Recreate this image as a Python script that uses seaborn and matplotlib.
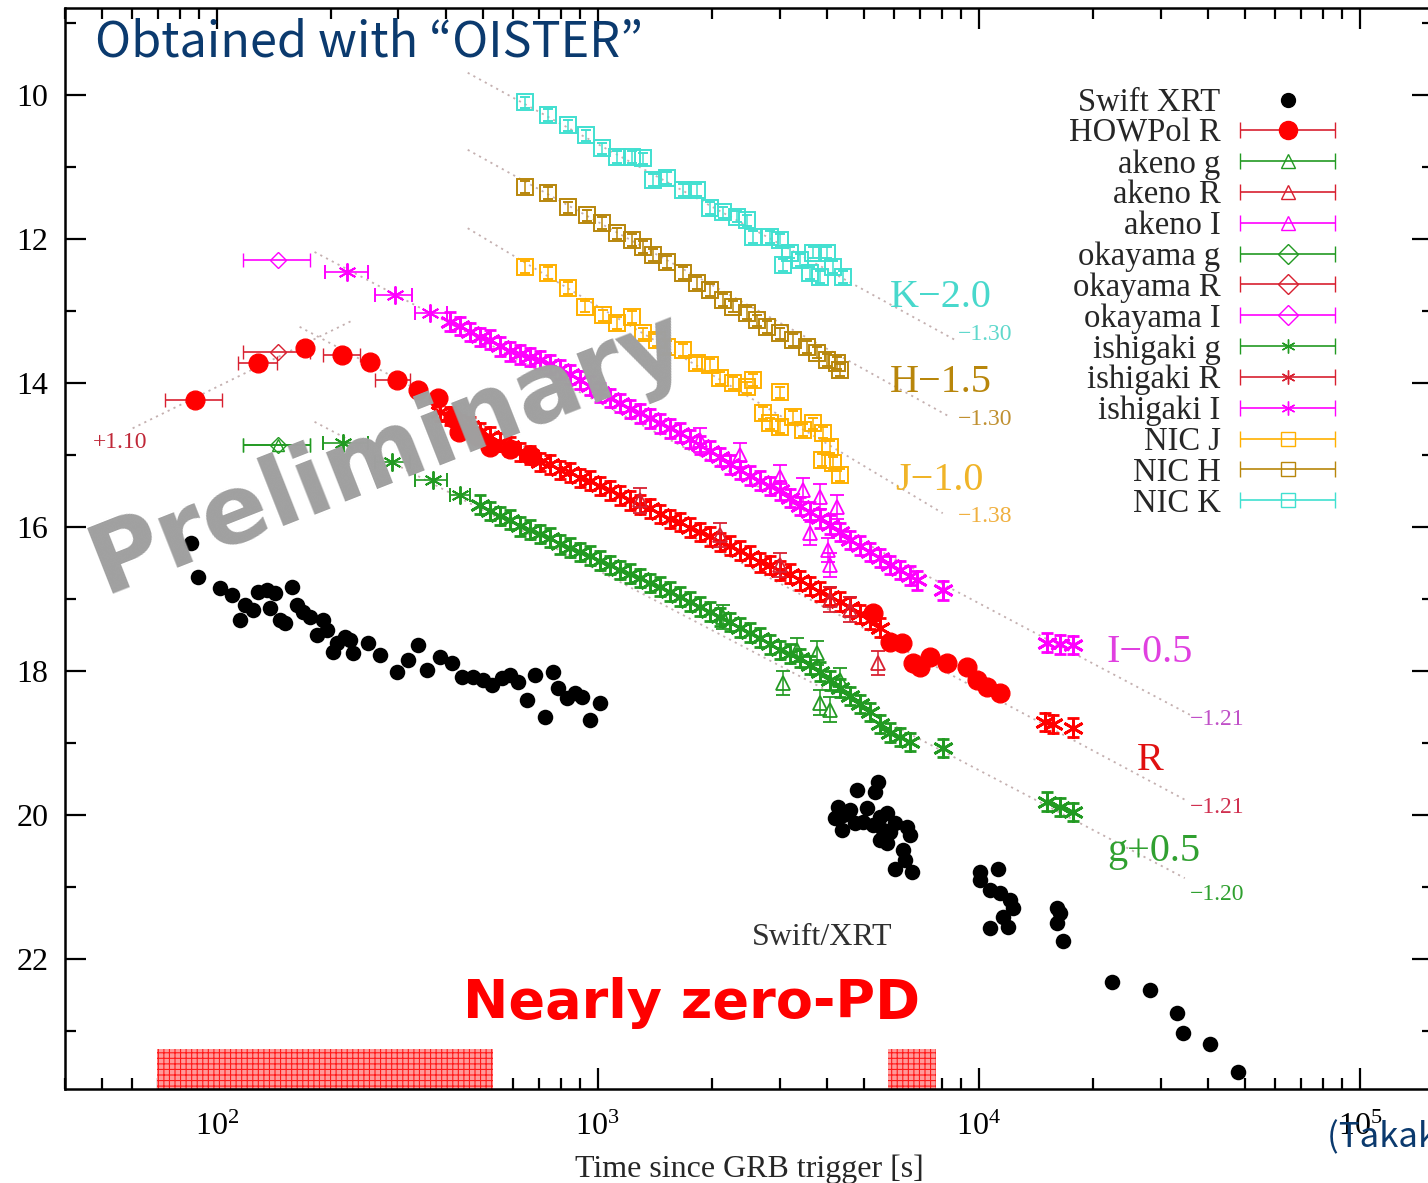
import numpy as np
import matplotlib
matplotlib.use("Agg")
import matplotlib.pyplot as plt
import seaborn as sns
from matplotlib.ticker import LogLocator, MultipleLocator, NullFormatter
from matplotlib.container import ErrorbarContainer
from matplotlib.legend_handler import HandlerErrorbar

# ---------------- data (time [s], magnitude) ----------------
xrt_t = [85.5, 89.2, 101.8, 109.5, 114.9, 118.4, 124.3, 128.2, 135.3, 142,
         137.8, 146.4, 150.7, 157.3, 162.2, 168.2, 175.4, 182.9, 189.7, 194.4,
         201.5, 206.5, 216.8, 223.4, 227.5, 249, 268, 296.7, 317, 337,
         356, 385, 414, 440, 470, 499, 527, 560, 587, 617,
         651, 684, 726, 762, 785, 829, 871, 908, 953, 1012,
         4786, 5433, 5333, 4266, 4188, 4395, 4585, 4365, 4730, 5082, 4962, 5270, 5500,
         5740, 5600, 5500, 5840, 6020, 6470, 6590, 5740, 6320, 6400, 6020, 6670,
         10070, 11230, 10070, 10690, 11350, 12060, 12280, 11560, 10690, 11910,
         16030, 16330, 16030, 16600,
         22320, 28100, 33100, 34300, 40360, 47860]
xrt_mag = [16.22, 16.69, 16.85, 16.94, 17.29, 17.08, 17.15, 16.90, 16.88, 16.92,
           17.13, 17.29, 17.33, 16.83, 17.08, 17.18, 17.25, 17.50, 17.29, 17.43,
           17.74, 17.61, 17.53, 17.57, 17.75, 17.61, 17.78, 18.01, 17.85, 17.64,
           17.99, 17.81, 17.89, 18.08, 18.08, 18.13, 18.19, 18.10, 18.06, 18.15,
           18.40, 18.06, 18.64, 18.01, 18.24, 18.38, 18.31, 18.36, 18.68, 18.44,
           19.65, 19.54, 19.69, 19.89, 20.04, 20.00, 19.93, 20.21, 20.11, 19.90, 20.10, 20.14, 20.03,
           19.97, 20.21, 20.35, 20.24, 20.11, 20.17, 20.28, 20.39, 20.49, 20.63, 20.76, 20.79,
           20.79, 20.76, 20.90, 21.04, 21.08, 21.18, 21.29, 21.42, 21.57, 21.56,
           21.29, 21.36, 21.50, 21.76,
           22.32, 22.43, 22.75, 23.03, 23.19, 23.57]

howpol_t = [87.6, 128.1, 170.2, 212.8, 252.1, 296.8, 337.1, 380.2, 416.4, 431.8,
            481.4, 520.7, 587.5, 663.1,
            5271, 5839, 6279, 6713, 6999, 7436, 8241, 9300, 9880, 10500, 11350]
howpol_mag = [14.24, 13.72, 13.51, 13.61, 13.71, 13.96, 14.10, 14.21, 14.49, 14.68,
              14.74, 14.89, 14.92, 15.00,
              17.19, 17.60, 17.61, 17.89, 17.94, 17.81, 17.89, 17.94, 18.13, 18.22, 18.31]
howpol_xe_t = [87.6, 128.1, 212.8, 296.8]
howpol_xe_mag = [14.24, 13.72, 13.61, 13.96]
howpol_xe_lo = [73.0, 113.5, 189.8, 259.8]
howpol_xe_hi = [103.1, 143.7, 237.3, 321.1]

ishiI_e_t = [219.4, 293.2, 362.4]
ishiI_e_mag = [12.46, 12.78, 13.03]
ishiI_e_lo = [192.1, 259.8, 331.0]
ishiI_e_hi = [249.1, 325.0, 401.5]
ishiI_t = [409, 434, 461, 490, 521, 553, 588, 624, 663, 704, 748, 795, 844, 897, 953,
           1012, 1075, 1142, 1213, 1289, 1369, 1455, 1545, 1641, 1744, 1853,
           1968, 2091, 2221, 2359, 2506, 2662, 2828, 3004, 3191, 3390,
           3601, 3826, 4064, 4317, 4585, 4871, 5174, 5497, 5839, 6203,
           6589, 6876, 8044, 15085, 16320, 17650]
ishiI_mag = [13.15, 13.21, 13.29, 13.36, 13.40, 13.49, 13.56, 13.60, 13.64, 13.68,
             13.74, 13.81, 13.88, 13.96, 14.04,
             14.13, 14.21, 14.28, 14.36, 14.42, 14.49, 14.56, 14.63, 14.69, 14.78, 14.86,
             14.94, 15.03, 15.13, 15.21, 15.29, 15.36, 15.43, 15.49, 15.60, 15.71,
             15.79, 15.88, 15.97, 16.07, 16.18, 16.26, 16.35, 16.43, 16.53, 16.60,
             16.68, 16.74, 16.88, 17.61, 17.63, 17.64]

ishiR_t = [385, 409, 434, 461, 490, 521, 553, 588, 624, 663, 704, 748, 795, 844, 897, 953,
           1012, 1075, 1142, 1213, 1289, 1369, 1455, 1545, 1641, 1744, 1853,
           1968, 2091, 2221, 2359, 2506, 2662, 2828, 3004, 3191, 3390,
           3601, 3826, 4064, 4317, 4585, 4871, 5174, 5497,
           14900, 15640, 17650]
ishiR_mag = [14.40, 14.46, 14.57, 14.60, 14.68, 14.74, 14.82, 14.88, 14.96, 15.00,
             15.10, 15.13, 15.21, 15.24, 15.32, 15.36, 15.43, 15.49, 15.56, 15.63,
             15.69, 15.74, 15.82, 15.89, 15.93, 16.01, 16.07, 16.13, 16.21, 16.26,
             16.33, 16.40, 16.49, 16.53, 16.61, 16.65, 16.74, 16.82, 16.90, 16.96,
             17.04, 17.11, 17.21, 17.29, 17.40,
             18.71, 18.74, 18.79]

ishig_e_t = [214, 288, 369, 434]
ishig_e_mag = [14.83, 15.10, 15.35, 15.56]
ishig_e_lo = [189.8, 259.8, 331.0, 409.0]
ishig_e_hi = [249.1, 321.0, 401.5, 461.0]
ishig_t = [490, 521, 553, 588, 624, 663, 704, 748, 795, 844, 897, 953,
           1012, 1075, 1142, 1213, 1289, 1369, 1455, 1545, 1641, 1744, 1853,
           1968, 2091, 2221, 2359, 2506, 2662, 2828, 3004, 3191, 3390,
           3601, 3826, 4064, 4317, 4585, 4871, 5174, 5497, 5839, 6203, 6589,
           8044, 15085, 16320, 17650]
ishig_mag = [15.69, 15.78, 15.85, 15.90, 15.99, 16.04, 16.10, 16.15, 16.24, 16.29,
             16.35, 16.40, 16.47, 16.53, 16.60, 16.65, 16.71, 16.78, 16.83, 16.90,
             16.97, 17.04, 17.11, 17.18, 17.25, 17.32, 17.40, 17.47, 17.54, 17.63,
             17.71, 17.76, 17.82, 17.92, 18.01, 18.13, 18.24, 18.35, 18.46, 18.57,
             18.74, 18.86, 18.92, 18.99,
             19.07, 19.82, 19.89, 19.96]

akeno_g_t = [2128, 3329, 3757, 3059, 3826, 4064, 4317]
akeno_g_mag = [17.25, 17.71, 17.75, 18.17, 18.44, 18.54, 18.13]
akeno_R_t = [1289, 2091, 3004, 4064, 4585, 5433]
akeno_R_mag = [15.63, 16.11, 16.53, 17.01, 17.15, 17.89]
akeno_I_t = [1853, 2359, 3004, 3452, 3826, 4238, 3601, 4015, 4064]
akeno_I_mag = [14.79, 15.00, 15.31, 15.49, 15.58, 15.72, 16.08, 16.32, 16.53]

# early points with time bins (akeno g, okayama g/R/I)
early_t = 144.6
early_lo = 117.0
early_hi = 175.4
akeno_g_e_mag = 14.86
okayama_mag = {"g": 14.86, "R": 13.57, "I": 12.29}

nicK_t = [643.5, 739.3, 834.2, 930.0, 1024, 1122, 1228, 1313, 1395, 1518, 1672, 1819, 1968,
          2128, 2317, 2461, 2552, 2828, 3004, 3191, 3059, 3390, 3667, 3990, 3601, 4140, 4395, 3826]
nicK_mag = [10.10, 10.28, 10.42, 10.56, 10.74, 10.86, 10.86, 10.88, 11.18, 11.15, 11.32, 11.32, 11.57,
            11.63, 11.69, 11.74, 11.97, 11.97, 12.01, 12.19, 12.36, 12.29, 12.19, 12.19, 12.47, 12.39, 12.53, 12.53]
nicH_t = [643.5, 739.3, 834.2, 935.7, 1024, 1122, 1228, 1313, 1395, 1518, 1672, 1819, 1968,
          2128, 2262, 2461, 2615, 2777, 3004, 3250, 3537, 3757, 3990, 4240, 4317]
nicH_mag = [11.28, 11.36, 11.56, 11.67, 11.78, 11.92, 12.01, 12.11, 12.22, 12.32, 12.47, 12.61, 12.71,
            12.85, 12.94, 13.03, 13.13, 13.22, 13.31, 13.40, 13.50, 13.58, 13.68, 13.72, 13.82]
nicJ_t = [643.5, 739.3, 834.2, 924.5, 1031, 1122, 1228, 1313, 1429, 1518, 1672, 1819, 1968,
          2091, 2262, 2461, 2552, 3004, 2711, 2828, 3004, 3250, 3452, 3667, 3896, 4064, 3872, 4140, 4317]
nicJ_mag = [12.39, 12.47, 12.68, 12.94, 13.06, 13.17, 13.08, 13.31, 13.40, 13.50, 13.54, 13.72, 13.75,
            13.93, 14.00, 14.06, 13.96, 14.13, 14.42, 14.56, 14.61, 14.47, 14.65, 14.56, 14.69, 14.89, 15.07, 15.11, 15.28]

# power-law fits (start / end)
fit_t = {"K": [455.9, 8650], "H": [455.9, 8391], "J": [455.9, 8044], "I": [180.7, 35800],
         "R": [165.1, 34730], "Rrise": [60.2, 227.5], "g": [180.7, 34730]}
fit_mag = {"K": [9.69, 13.40], "H": [10.76, 14.47], "J": [11.85, 15.81], "I": [12.18, 18.61],
           "R": [13.22, 19.79], "Rrise": [14.63, 13.13], "g": [14.54, 20.88]}

# labels of the bands: text, t, mag, size, colour
band_labels = [("K\u22122.0", 5839, 12.81, 29, "#48d8cc"),
               ("\u22121.30", 8810, 13.33, 17, "#60d8cc"),
               ("H\u22121.5", 5839, 14.00, 29, "#b8860b"),
               ("\u22121.30", 8810, 14.51, 17, "#c09030"),
               ("J\u22121.0", 6020, 15.35, 29, "#f0b428"),
               ("\u22121.38", 8810, 15.86, 17, "#f0b040"),
               ("I\u22120.5", 21680, 17.74, 29, "#e040e0"),
               ("\u22121.21", 35800, 18.68, 17, "#c050c8"),
               ("R", 25980, 19.24, 29, "#e01010"),
               ("\u22121.21", 35800, 19.90, 17, "#d03050"),
               ("g+0.5", 21680, 20.51, 29, "#30a030"),
               ("\u22121.20", 35800, 21.11, 17, "#30a030"),
               ("+1.10", 47.3, 14.83, 17, "#c02838"),
               ("Swift/XRT", 2536, 21.71, 23, "#303030")]

# windows with nearly zero polarization degree
pd_windows = [(69.6, 530), (5770, 7710)]

# ---------------- style ----------------
sns.set_theme(style="ticks")
plt.rcParams["font.family"] = ["Liberation Serif", "DejaVu Serif"]
plt.rcParams["mathtext.fontset"] = "custom"
plt.rcParams["mathtext.rm"] = "Liberation Serif"
plt.rcParams["hatch.linewidth"] = 0.8

green = "#229a22"
red = "#ff0000"
red_e = "#d82030"
magenta = "#ff00ff"
colJ = "#ffb000"
colH = "#b8860b"
colK = "#40e0d0"
ast = (6, 2, 0)

fig = plt.figure(figsize=(14.28, 11.83), dpi=100)
ax = fig.add_axes([65 / 1428, 94 / 1183, 1368 / 1428, 1081 / 1183])
ax.set_xscale("log")

# fits
for k in fit_t:
    ax.plot(fit_t[k], fit_mag[k], linestyle=(0, (1.2, 2.4)), color="#c4b0b0", lw=1.3, zorder=1)

# NIC squares
for tt, mm, c in [(nicK_t, nicK_mag, colK), (nicH_t, nicH_mag, colH), (nicJ_t, nicJ_mag, colJ)]:
    ax.errorbar(tt, mm, yerr=0.08, fmt="s", ms=12, mfc="none", mec=c, mew=1.4,
                ecolor=c, elinewidth=1.1, capsize=3.5, color=c, zorder=3)

# ishigaki bands
for tt, mm, c in [(ishiI_t, ishiI_mag, magenta), (ishiR_t, ishiR_mag, red), (ishig_t, ishig_mag, green)]:
    ax.errorbar(tt, mm, yerr=0.13, fmt="", marker=ast, ls="none", ms=15, mew=2.0, color=c, ecolor=c,
                elinewidth=1.2, capsize=4, zorder=3)
for tt, mm, lo, hi, c in [(ishiI_e_t, ishiI_e_mag, ishiI_e_lo, ishiI_e_hi, magenta),
                          (ishig_e_t, ishig_e_mag, ishig_e_lo, ishig_e_hi, green)]:
    tt = np.array(tt)
    ax.errorbar(tt, mm, xerr=[tt - np.array(lo), np.array(hi) - tt], fmt="", marker=ast, ls="none",
                ms=13, mew=1.4, color=c, ecolor=c, elinewidth=1.2, capsize=5, zorder=3)

# akeno triangles
for tt, mm, c in [(akeno_g_t, akeno_g_mag, green), (akeno_R_t, akeno_R_mag, red_e), (akeno_I_t, akeno_I_mag, magenta)]:
    ax.errorbar(tt, mm, yerr=0.17, fmt="^", ms=10, mfc="none", mec=c, mew=1.3,
                ecolor=c, elinewidth=1.1, capsize=5, zorder=4)

# early binned points
xe = [[early_t - early_lo], [early_hi - early_t]]
ax.errorbar([early_t], [akeno_g_e_mag], xerr=xe, fmt="^", ms=9, mfc="none", mec=green,
            ecolor=green, capsize=5, elinewidth=1.2, zorder=4)
for b, c in [("g", green), ("R", red_e), ("I", magenta)]:
    ax.errorbar([early_t], [okayama_mag[b]], xerr=xe, fmt="D", ms=8, mfc="none", mec=c,
                ecolor=c, capsize=5, elinewidth=1.2, zorder=4)

# HOWPol
hx = np.array(howpol_xe_t)
ax.errorbar(hx, howpol_xe_mag, xerr=[hx - np.array(howpol_xe_lo), np.array(howpol_xe_hi) - hx],
            fmt="none", ecolor=red_e, elinewidth=1.2, capsize=5, zorder=5)
ax.plot(howpol_t, howpol_mag, "o", color=red, ms=13.5, mec=red, ls="none", zorder=6)

# Swift XRT
sns.scatterplot(x=xrt_t, y=xrt_mag, color="black", s=125, linewidth=0, ax=ax, legend=False, zorder=6)

# PD windows
for a, b in pd_windows:
    ax.fill_between([a, b], 23.26, 23.81, facecolor="#ff9a9a", edgecolor="#ff1a1a",
                    hatch="+++", linewidth=0, zorder=2)

# band labels
for txt, tt, mm, fs, c in band_labels:
    ax.text(tt, mm, txt, fontsize=fs, color=c, ha="left", va="center", zorder=7)

# axes
ax.set_xlim(40, 1.556e5)
ax.set_ylim(23.81, 8.79)
ax.xaxis.set_major_locator(LogLocator(base=10, numticks=10))
ax.xaxis.set_minor_locator(LogLocator(base=10, subs=np.arange(2, 10), numticks=20))
ax.xaxis.set_minor_formatter(NullFormatter())
ax.yaxis.set_major_locator(MultipleLocator(2))
ax.yaxis.set_minor_locator(MultipleLocator(1))
ax.tick_params(which="both", direction="in", top=True, right=True, width=1.6, colors="black",
               labelsize=23)
ax.tick_params(which="major", length=15)
ax.tick_params(which="minor", length=8)
ax.tick_params(axis="x", pad=17)
ax.tick_params(axis="y", pad=12)
for s in ax.spines.values():
    s.set_linewidth(1.8)
    s.set_color("black")
ax.set_xlabel("Time since GRB trigger [s]", fontsize=23, labelpad=9)

# legend
handles = [ax.plot([], [], "o", color="black", ms=10, ls="none")[0]]
specs = [("o", red, red, red_e), ("^", "none", green, green), ("^", "none", red_e, red_e),
         ("^", "none", magenta, magenta), ("D", "none", green, green), ("D", "none", red_e, red_e),
         ("D", "none", magenta, magenta), (ast, None, green, green), (ast, None, red_e, red_e),
         (ast, None, magenta, magenta), ("s", "none", colJ, colJ), ("s", "none", colH, colH),
         ("s", "none", colK, colK)]
for mk, fc, ec, lc in specs:
    kw = dict(mfc=fc) if fc is not None else {}
    ms = 13 if mk == "o" else 10
    h = ax.errorbar([np.nan], [np.nan], xerr=[[1], [1]], fmt="", marker=mk, ls="none", ms=ms,
                    mec=ec, color=ec, ecolor=lc, elinewidth=1.2, capsize=6, **kw)
    handles.append(h)
labels = ["Swift XRT", "HOWPol R", "akeno g", "akeno R", "akeno I", "okayama g", "okayama R",
          "okayama I", "ishigaki g", "ishigaki R", "ishigaki I", "NIC J", "NIC H", "NIC K"]
ax.legend(handles, labels, loc="upper right", bbox_to_anchor=(0.9284, 0.9265), frameon=False,
          markerfirst=False, handlelength=2.91, handletextpad=0.6, labelspacing=0.01,
          borderpad=0, borderaxespad=0, fontsize=23.5,
          handler_map={ErrorbarContainer: HandlerErrorbar(xerr_size=1.46)})

# overlay texts
ax.text(0.0219, 0.9676, "Obtained with \u201cOISTER\u201d", transform=ax.transAxes, fontsize=35,
        color="#0b3a6e", family=["Noto Sans CJK JP", "DejaVu Sans"], ha="left", va="center", zorder=8)
ax.text(282, 14.98, "Preliminary", fontsize=70, fontweight="bold", color="#a0a0a0",
        family=["DejaVu Sans"], rotation=21.5, ha="center", va="center",
        rotation_mode="anchor", zorder=20)
ax.text(442, 22.61, "Nearly zero-PD", fontsize=39, fontweight="bold", color="#ff0000",
        family=["DejaVu Sans"], ha="left", va="center", zorder=8)
fig.text(1327 / 1428, 1 - 1138 / 1183, "(Takaki et al.)", fontsize=25, color="#0b3a6e",
         family=["Noto Sans CJK JP", "DejaVu Sans"], ha="left", va="center")

fig.savefig("out.png", dpi=100)
